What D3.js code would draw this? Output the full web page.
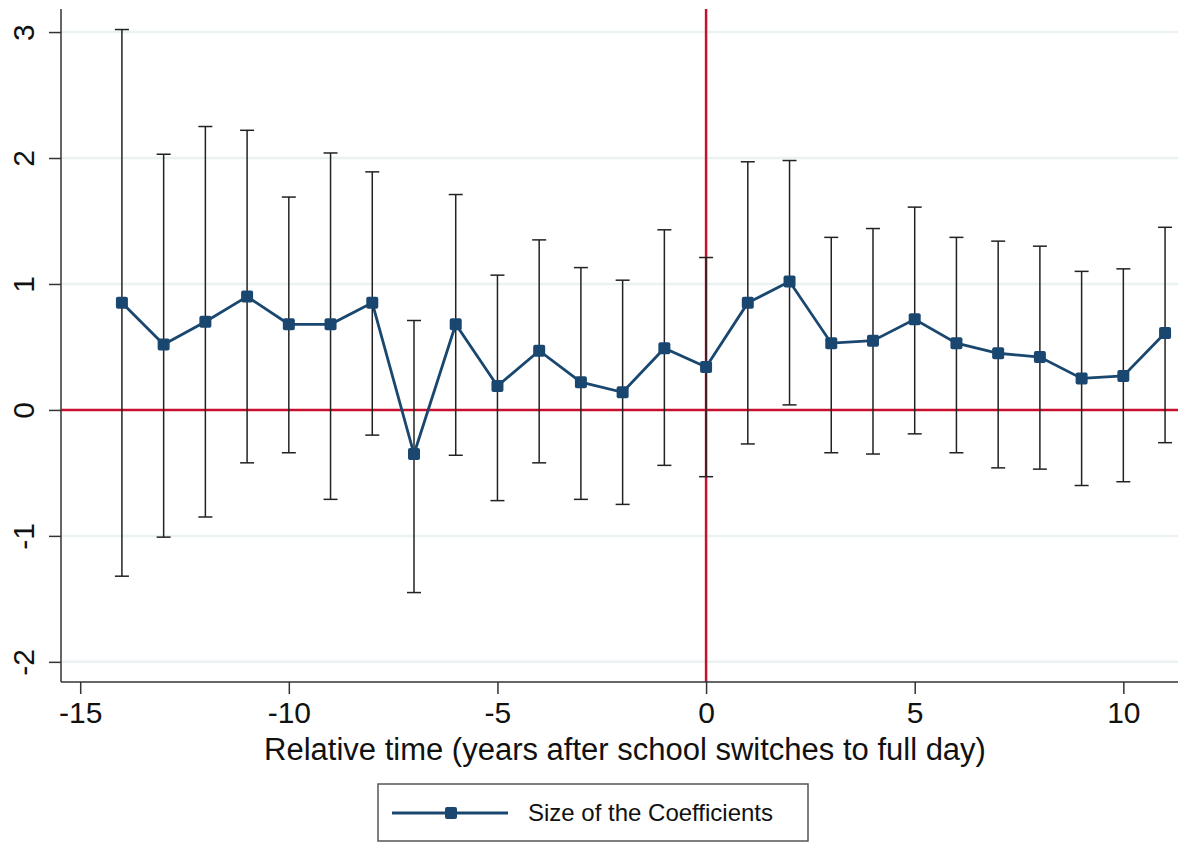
<!DOCTYPE html>
<html>
<head>
<meta charset="utf-8">
<script src="https://cdn.jsdelivr.net/npm/d3@7"></script>
<style>
  body { margin: 0; background: #fff; }
  text { font-family: "Liberation Sans", Arial, sans-serif; fill: #111; }
</style>
</head>
<body>
<div id="chart"></div>
<script>
// relative time (years after switch)
const years = [-14,-13,-12,-11,-10,-9,-8,-7,-6,-5,-4,-3,-2,-1,0,1,2,3,4,5,6,7,8,9,10,11];
const coef  = [0.85,0.52,0.70,0.90,0.68,0.68,0.85,-0.35,0.68,0.19,0.47,0.22,0.14,0.49,0.34,0.85,1.02,0.53,0.55,0.72,0.53,0.45,0.42,0.25,0.27,0.61];
const upper = [3.02,2.03,2.25,2.22,1.69,2.04,1.89,0.71,1.71,1.07,1.35,1.13,1.03,1.43,1.21,1.97,1.98,1.37,1.44,1.61,1.37,1.34,1.30,1.10,1.12,1.45];
const lower = [-1.32,-1.01,-0.85,-0.42,-0.34,-0.71,-0.20,-1.45,-0.36,-0.72,-0.42,-0.71,-0.75,-0.44,-0.53,-0.27,0.04,-0.34,-0.35,-0.19,-0.34,-0.46,-0.47,-0.60,-0.57,-0.26];
const xTicks = [-15,-10,-5,0,5,10];
const yTicks = [-2,-1,0,1,2,3];
const xTitle = "Relative time (years after school switches to full day)";
const legendLabel = "Size of the Coefficients";

const W = 1180, H = 842;
const plot = {left: 61, right: 1178, top: 9, bottom: 682};
const navy = "#1a476f", red = "#c8102e";
const fmt = d => String(d);  // plain hyphen minus, like Stata

const data = years.map((t,i) => ({t, b: coef[i], hi: upper[i], lo: lower[i]}));

const svg = d3.select("#chart").append("svg")
  .attr("width", W).attr("height", H);

const x = d3.scaleLinear().domain([-15.46, 11.31]).range([plot.left, plot.right]);
const y = d3.scaleLinear().domain([-2.16, 3.183]).range([plot.bottom, plot.top]);

// gridlines
svg.append("g").selectAll("line")
  .data(yTicks.filter(d => d !== 0))
  .join("line")
    .attr("x1", plot.left).attr("x2", plot.right)
    .attr("y1", d => y(d)).attr("y2", d => y(d))
    .attr("stroke", "#eaf2f3").attr("stroke-width", 2.5);

// reference lines
svg.append("line")
  .attr("x1", plot.left).attr("x2", plot.right)
  .attr("y1", y(0)).attr("y2", y(0))
  .attr("stroke", red).attr("stroke-width", 2.5);
svg.append("line")
  .attr("x1", x(0)).attr("x2", x(0))
  .attr("y1", plot.top).attr("y2", plot.bottom)
  .attr("stroke", red).attr("stroke-width", 2.5);

// axes
const yAxis = svg.append("g")
  .attr("transform", `translate(${plot.left},0)`)
  .call(d3.axisLeft(y).tickValues(yTicks).tickSize(12).tickFormat(fmt));
yAxis.select(".domain").attr("d", `M0,${plot.top}V${plot.bottom}`);
yAxis.selectAll("text").remove();
yAxis.selectAll(".tick").append("text")
  .attr("transform", "translate(-27,0) rotate(-90)")
  .attr("text-anchor", "middle")
  .style("font-size", "30px")
  .text(fmt);

const xAxis = svg.append("g")
  .attr("transform", `translate(0,${plot.bottom})`)
  .call(d3.axisBottom(x).tickValues(xTicks).tickSize(12).tickFormat(fmt));
xAxis.select(".domain").attr("d", `M${plot.left},0H${plot.right}`);
xAxis.selectAll("text")
  .attr("y", 20).attr("dy", "0.71em")
  .style("font-size", "30px")
  .style("font-family", "'Liberation Sans', Arial, sans-serif");

svg.selectAll(".domain, .tick line").attr("stroke", "#333").attr("stroke-width", 1.5);

svg.append("text")
  .attr("x", (262 + 988) / 2).attr("y", 760)
  .attr("text-anchor", "middle")
  .style("font-size", "31px")
  .text(xTitle);

// error bars
const cap = 7;
const eb = svg.append("g").attr("stroke", "#222").attr("stroke-width", 1.5);
eb.selectAll("line.v").data(data).join("line").attr("class", "v")
  .attr("x1", d => x(d.t)).attr("x2", d => x(d.t))
  .attr("y1", d => y(d.lo)).attr("y2", d => y(d.hi));
eb.selectAll("line.h").data(data).join("line").attr("class", "h")
  .attr("x1", d => x(d.t) - cap).attr("x2", d => x(d.t) + cap)
  .attr("y1", d => y(d.hi)).attr("y2", d => y(d.hi));
eb.selectAll("line.l").data(data).join("line").attr("class", "l")
  .attr("x1", d => x(d.t) - cap).attr("x2", d => x(d.t) + cap)
  .attr("y1", d => y(d.lo)).attr("y2", d => y(d.lo));

// connected coefficients
svg.append("path")
  .datum(data)
  .attr("fill", "none").attr("stroke", navy).attr("stroke-width", 2.8)
  .attr("d", d3.line().x(d => x(d.t)).y(d => y(d.b)));
const ms = 12;
svg.append("g").selectAll("rect").data(data).join("rect")
  .attr("x", d => x(d.t) - ms / 2).attr("y", d => y(d.b) - ms / 2)
  .attr("width", ms).attr("height", ms).attr("rx", 2)
  .attr("fill", navy);

// legend
const lg = svg.append("g");
lg.append("rect")
  .attr("x", 378).attr("y", 784).attr("width", 430).attr("height", 57)
  .attr("fill", "#fff").attr("stroke", "#555").attr("stroke-width", 1.5);
lg.append("line")
  .attr("x1", 392).attr("x2", 508).attr("y1", 813).attr("y2", 813)
  .attr("stroke", navy).attr("stroke-width", 2.8);
lg.append("rect")
  .attr("x", 451 - ms / 2).attr("y", 813 - ms / 2).attr("width", ms).attr("height", ms)
  .attr("rx", 2).attr("fill", navy);
lg.append("text")
  .attr("x", 528).attr("y", 813).attr("dy", "0.35em")
  .style("font-size", "24px")
  .text(legendLabel);
</script>
</body>
</html>
